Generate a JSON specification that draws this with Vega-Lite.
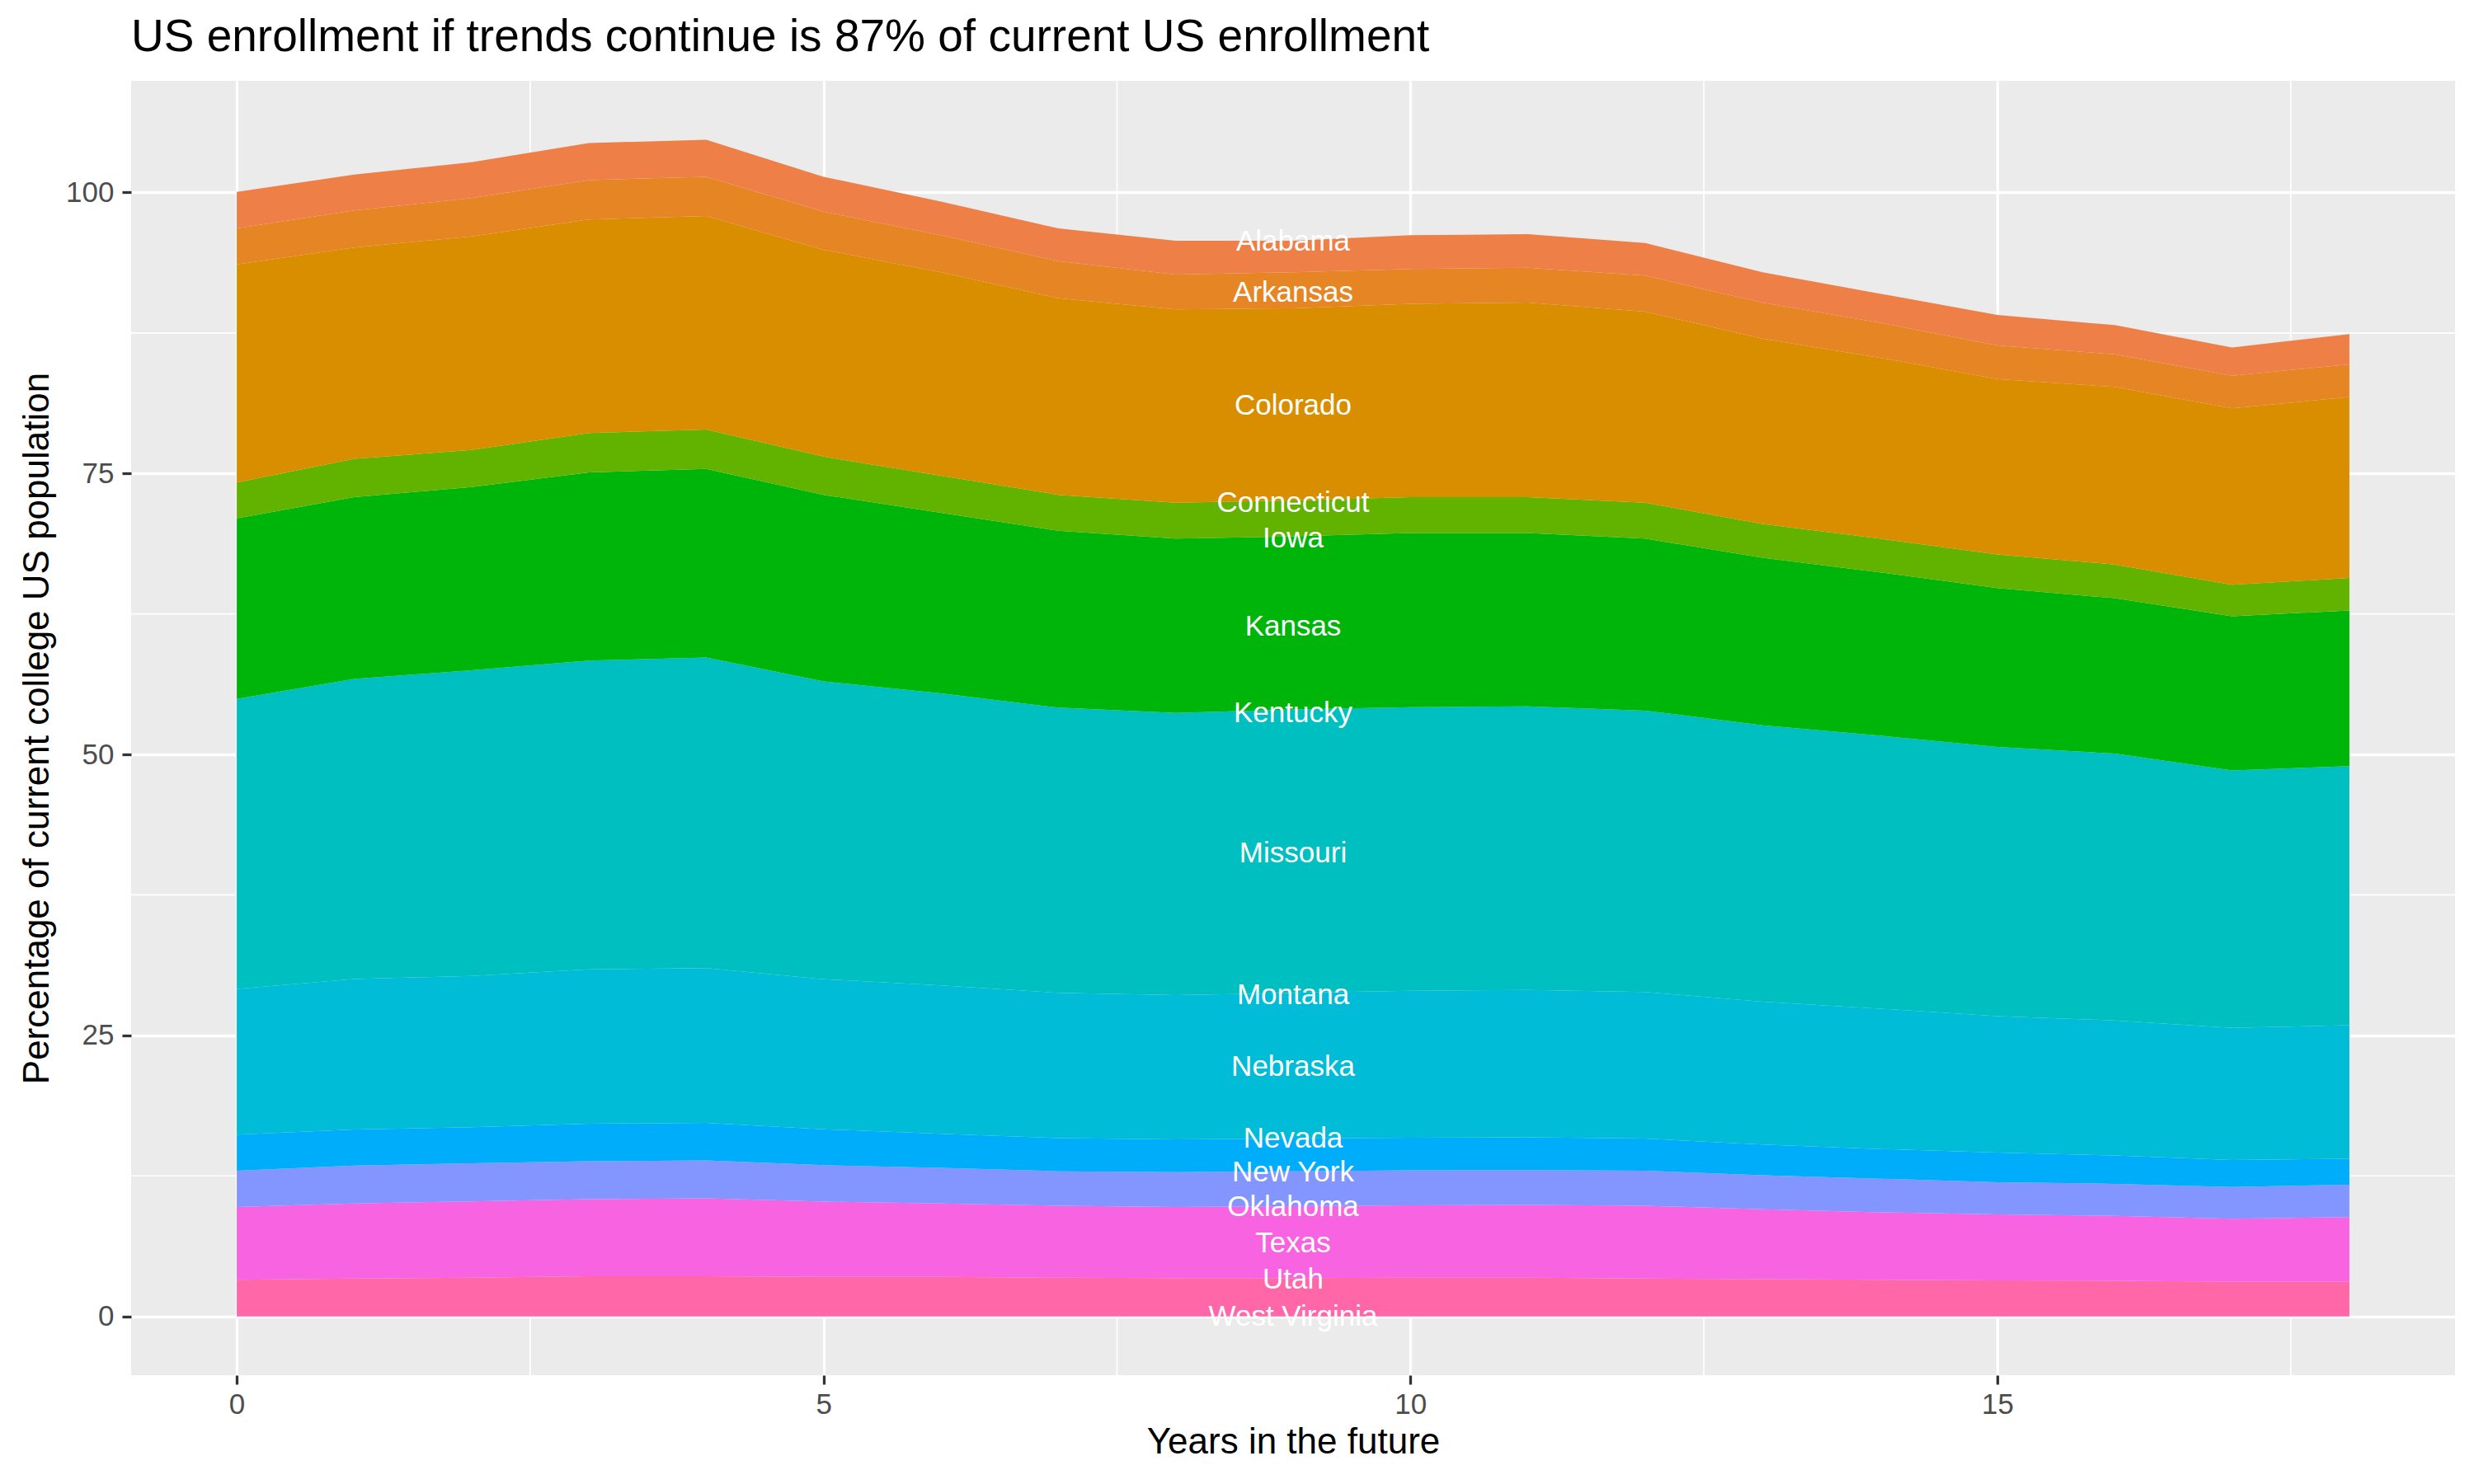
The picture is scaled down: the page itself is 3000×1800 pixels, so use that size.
{
  "$schema": "https://vega.github.io/schema/vega-lite/v6.json",
  "width": 2818,
  "height": 1570,
  "autosize": {"type": "none"},
  "padding": {"left": 159, "top": 98, "right": 23, "bottom": 132},
  "background": "white",
  "title": {
    "text": "US enrollment if trends continue is 87% of current US enrollment",
    "anchor": "start",
    "frame": "group",
    "font": "Liberation Sans",
    "fontSize": 55,
    "fontWeight": "normal",
    "color": "black",
    "offset": 23
  },
  "config": {
    "view": {"fill": "#EBEBEB", "stroke": null},
    "axis": {
      "domain": false,
      "grid": true,
      "gridColor": "white",
      "gridWidth": 3.3,
      "tickColor": "#333333",
      "tickWidth": 3.3,
      "tickSize": 11,
      "labelFont": "Liberation Sans",
      "labelFontSize": 35,
      "labelColor": "#4D4D4D",
      "titleFont": "Liberation Sans",
      "titleFontSize": 44,
      "titleFontWeight": "normal",
      "titleColor": "black"
    }
  },
  "datasets": {
    "enrollment": [
      {"band": "Utah", "year": 0, "pct": 3.25}, {"band": "Utah", "year": 1, "pct": 3.36}, {"band": "Utah", "year": 2, "pct": 3.44}, {"band": "Utah", "year": 3, "pct": 3.56}, {"band": "Utah", "year": 4, "pct": 3.56}, {"band": "Utah", "year": 5, "pct": 3.52}, {"band": "Utah", "year": 6, "pct": 3.52}, {"band": "Utah", "year": 7, "pct": 3.44}, {"band": "Utah", "year": 8, "pct": 3.40}, {"band": "Utah", "year": 9, "pct": 3.40}, {"band": "Utah", "year": 10, "pct": 3.44}, {"band": "Utah", "year": 11, "pct": 3.44}, {"band": "Utah", "year": 12, "pct": 3.36}, {"band": "Utah", "year": 13, "pct": 3.32}, {"band": "Utah", "year": 14, "pct": 3.25}, {"band": "Utah", "year": 15, "pct": 3.21}, {"band": "Utah", "year": 16, "pct": 3.17}, {"band": "Utah", "year": 17, "pct": 3.09}, {"band": "Utah", "year": 18, "pct": 3.09},
      {"band": "Texas", "year": 0, "pct": 6.48}, {"band": "Texas", "year": 1, "pct": 6.68}, {"band": "Texas", "year": 2, "pct": 6.79}, {"band": "Texas", "year": 3, "pct": 6.86}, {"band": "Texas", "year": 4, "pct": 6.94}, {"band": "Texas", "year": 5, "pct": 6.68}, {"band": "Texas", "year": 6, "pct": 6.52}, {"band": "Texas", "year": 7, "pct": 6.40}, {"band": "Texas", "year": 8, "pct": 6.33}, {"band": "Texas", "year": 9, "pct": 6.40}, {"band": "Texas", "year": 10, "pct": 6.44}, {"band": "Texas", "year": 11, "pct": 6.48}, {"band": "Texas", "year": 12, "pct": 6.48}, {"band": "Texas", "year": 13, "pct": 6.21}, {"band": "Texas", "year": 14, "pct": 6.01}, {"band": "Texas", "year": 15, "pct": 5.86}, {"band": "Texas", "year": 16, "pct": 5.78}, {"band": "Texas", "year": 17, "pct": 5.59}, {"band": "Texas", "year": 18, "pct": 5.74},
      {"band": "New York", "year": 0, "pct": 3.22}, {"band": "New York", "year": 1, "pct": 3.37}, {"band": "New York", "year": 2, "pct": 3.38}, {"band": "New York", "year": 3, "pct": 3.38}, {"band": "New York", "year": 4, "pct": 3.38}, {"band": "New York", "year": 5, "pct": 3.25}, {"band": "New York", "year": 6, "pct": 3.18}, {"band": "New York", "year": 7, "pct": 3.07}, {"band": "New York", "year": 8, "pct": 3.10}, {"band": "New York", "year": 9, "pct": 3.11}, {"band": "New York", "year": 10, "pct": 3.11}, {"band": "New York", "year": 11, "pct": 3.10}, {"band": "New York", "year": 12, "pct": 3.11}, {"band": "New York", "year": 13, "pct": 3.03}, {"band": "New York", "year": 14, "pct": 2.99}, {"band": "New York", "year": 15, "pct": 2.87}, {"band": "New York", "year": 16, "pct": 2.84}, {"band": "New York", "year": 17, "pct": 2.83}, {"band": "New York", "year": 18, "pct": 2.88},
      {"band": "Nevada", "year": 0, "pct": 3.22}, {"band": "Nevada", "year": 1, "pct": 3.22}, {"band": "Nevada", "year": 2, "pct": 3.22}, {"band": "Nevada", "year": 3, "pct": 3.34}, {"band": "Nevada", "year": 4, "pct": 3.34}, {"band": "Nevada", "year": 5, "pct": 3.20}, {"band": "Nevada", "year": 6, "pct": 3.02}, {"band": "Nevada", "year": 7, "pct": 2.95}, {"band": "Nevada", "year": 8, "pct": 2.91}, {"band": "Nevada", "year": 9, "pct": 2.91}, {"band": "Nevada", "year": 10, "pct": 2.91}, {"band": "Nevada", "year": 11, "pct": 2.91}, {"band": "Nevada", "year": 12, "pct": 2.87}, {"band": "Nevada", "year": 13, "pct": 2.72}, {"band": "Nevada", "year": 14, "pct": 2.64}, {"band": "Nevada", "year": 15, "pct": 2.64}, {"band": "Nevada", "year": 16, "pct": 2.52}, {"band": "Nevada", "year": 17, "pct": 2.41}, {"band": "Nevada", "year": 18, "pct": 2.32},
      {"band": "Nebraska", "year": 0, "pct": 12.96}, {"band": "Nebraska", "year": 1, "pct": 13.39}, {"band": "Nebraska", "year": 2, "pct": 13.46}, {"band": "Nebraska", "year": 3, "pct": 13.73}, {"band": "Nebraska", "year": 4, "pct": 13.77}, {"band": "Nebraska", "year": 5, "pct": 13.35}, {"band": "Nebraska", "year": 6, "pct": 13.20}, {"band": "Nebraska", "year": 7, "pct": 12.92}, {"band": "Nebraska", "year": 8, "pct": 12.84}, {"band": "Nebraska", "year": 9, "pct": 12.96}, {"band": "Nebraska", "year": 10, "pct": 13.07}, {"band": "Nebraska", "year": 11, "pct": 13.12}, {"band": "Nebraska", "year": 12, "pct": 13.04}, {"band": "Nebraska", "year": 13, "pct": 12.72}, {"band": "Nebraska", "year": 14, "pct": 12.49}, {"band": "Nebraska", "year": 15, "pct": 12.14}, {"band": "Nebraska", "year": 16, "pct": 12.02}, {"band": "Nebraska", "year": 17, "pct": 11.75}, {"band": "Nebraska", "year": 18, "pct": 11.88},
      {"band": "Missouri", "year": 0, "pct": 25.80}, {"band": "Missouri", "year": 1, "pct": 26.70}, {"band": "Missouri", "year": 2, "pct": 27.20}, {"band": "Missouri", "year": 3, "pct": 27.48}, {"band": "Missouri", "year": 4, "pct": 27.63}, {"band": "Missouri", "year": 5, "pct": 26.50}, {"band": "Missouri", "year": 6, "pct": 26.00}, {"band": "Missouri", "year": 7, "pct": 25.38}, {"band": "Missouri", "year": 8, "pct": 25.11}, {"band": "Missouri", "year": 9, "pct": 25.22}, {"band": "Missouri", "year": 10, "pct": 25.23}, {"band": "Missouri", "year": 11, "pct": 25.22}, {"band": "Missouri", "year": 12, "pct": 25.03}, {"band": "Missouri", "year": 13, "pct": 24.60}, {"band": "Missouri", "year": 14, "pct": 24.29}, {"band": "Missouri", "year": 15, "pct": 23.94}, {"band": "Missouri", "year": 16, "pct": 23.75}, {"band": "Missouri", "year": 17, "pct": 22.90}, {"band": "Missouri", "year": 18, "pct": 23.05},
      {"band": "Kansas", "year": 0, "pct": 16.07}, {"band": "Kansas", "year": 1, "pct": 16.18}, {"band": "Kansas", "year": 2, "pct": 16.31}, {"band": "Kansas", "year": 3, "pct": 16.75}, {"band": "Kansas", "year": 4, "pct": 16.78}, {"band": "Kansas", "year": 5, "pct": 16.60}, {"band": "Kansas", "year": 6, "pct": 16.06}, {"band": "Kansas", "year": 7, "pct": 15.74}, {"band": "Kansas", "year": 8, "pct": 15.51}, {"band": "Kansas", "year": 9, "pct": 15.40}, {"band": "Kansas", "year": 10, "pct": 15.50}, {"band": "Kansas", "year": 11, "pct": 15.43}, {"band": "Kansas", "year": 12, "pct": 15.31}, {"band": "Kansas", "year": 13, "pct": 14.90}, {"band": "Kansas", "year": 14, "pct": 14.53}, {"band": "Kansas", "year": 15, "pct": 14.14}, {"band": "Kansas", "year": 16, "pct": 13.82}, {"band": "Kansas", "year": 17, "pct": 13.73}, {"band": "Kansas", "year": 18, "pct": 13.84},
      {"band": "Connecticut", "year": 0, "pct": 3.20}, {"band": "Connecticut", "year": 1, "pct": 3.40}, {"band": "Connecticut", "year": 2, "pct": 3.30}, {"band": "Connecticut", "year": 3, "pct": 3.50}, {"band": "Connecticut", "year": 4, "pct": 3.50}, {"band": "Connecticut", "year": 5, "pct": 3.40}, {"band": "Connecticut", "year": 6, "pct": 3.30}, {"band": "Connecticut", "year": 7, "pct": 3.20}, {"band": "Connecticut", "year": 8, "pct": 3.20}, {"band": "Connecticut", "year": 9, "pct": 3.20}, {"band": "Connecticut", "year": 10, "pct": 3.20}, {"band": "Connecticut", "year": 11, "pct": 3.20}, {"band": "Connecticut", "year": 12, "pct": 3.20}, {"band": "Connecticut", "year": 13, "pct": 3.00}, {"band": "Connecticut", "year": 14, "pct": 3.00}, {"band": "Connecticut", "year": 15, "pct": 3.00}, {"band": "Connecticut", "year": 16, "pct": 3.00}, {"band": "Connecticut", "year": 17, "pct": 2.80}, {"band": "Connecticut", "year": 18, "pct": 2.90},
      {"band": "Colorado", "year": 0, "pct": 19.40}, {"band": "Colorado", "year": 1, "pct": 18.80}, {"band": "Colorado", "year": 2, "pct": 19.00}, {"band": "Colorado", "year": 3, "pct": 19.00}, {"band": "Colorado", "year": 4, "pct": 19.00}, {"band": "Colorado", "year": 5, "pct": 18.40}, {"band": "Colorado", "year": 6, "pct": 18.10}, {"band": "Colorado", "year": 7, "pct": 17.50}, {"band": "Colorado", "year": 8, "pct": 17.20}, {"band": "Colorado", "year": 9, "pct": 17.10}, {"band": "Colorado", "year": 10, "pct": 17.20}, {"band": "Colorado", "year": 11, "pct": 17.30}, {"band": "Colorado", "year": 12, "pct": 17.00}, {"band": "Colorado", "year": 13, "pct": 16.50}, {"band": "Colorado", "year": 14, "pct": 16.10}, {"band": "Colorado", "year": 15, "pct": 15.60}, {"band": "Colorado", "year": 16, "pct": 15.80}, {"band": "Colorado", "year": 17, "pct": 15.70}, {"band": "Colorado", "year": 18, "pct": 16.10},
      {"band": "Arkansas", "year": 0, "pct": 3.20}, {"band": "Arkansas", "year": 1, "pct": 3.30}, {"band": "Arkansas", "year": 2, "pct": 3.40}, {"band": "Arkansas", "year": 3, "pct": 3.50}, {"band": "Arkansas", "year": 4, "pct": 3.50}, {"band": "Arkansas", "year": 5, "pct": 3.40}, {"band": "Arkansas", "year": 6, "pct": 3.30}, {"band": "Arkansas", "year": 7, "pct": 3.30}, {"band": "Arkansas", "year": 8, "pct": 3.10}, {"band": "Arkansas", "year": 9, "pct": 3.20}, {"band": "Arkansas", "year": 10, "pct": 3.10}, {"band": "Arkansas", "year": 11, "pct": 3.10}, {"band": "Arkansas", "year": 12, "pct": 3.20}, {"band": "Arkansas", "year": 13, "pct": 3.20}, {"band": "Arkansas", "year": 14, "pct": 3.10}, {"band": "Arkansas", "year": 15, "pct": 3.00}, {"band": "Arkansas", "year": 16, "pct": 2.90}, {"band": "Arkansas", "year": 17, "pct": 2.90}, {"band": "Arkansas", "year": 18, "pct": 2.90},
      {"band": "Alabama", "year": 0, "pct": 3.25}, {"band": "Alabama", "year": 1, "pct": 3.20}, {"band": "Alabama", "year": 2, "pct": 3.20}, {"band": "Alabama", "year": 3, "pct": 3.30}, {"band": "Alabama", "year": 4, "pct": 3.30}, {"band": "Alabama", "year": 5, "pct": 3.10}, {"band": "Alabama", "year": 6, "pct": 3.00}, {"band": "Alabama", "year": 7, "pct": 2.90}, {"band": "Alabama", "year": 8, "pct": 3.00}, {"band": "Alabama", "year": 9, "pct": 2.80}, {"band": "Alabama", "year": 10, "pct": 3.00}, {"band": "Alabama", "year": 11, "pct": 3.00}, {"band": "Alabama", "year": 12, "pct": 2.90}, {"band": "Alabama", "year": 13, "pct": 2.70}, {"band": "Alabama", "year": 14, "pct": 2.60}, {"band": "Alabama", "year": 15, "pct": 2.70}, {"band": "Alabama", "year": 16, "pct": 2.60}, {"band": "Alabama", "year": 17, "pct": 2.50}, {"band": "Alabama", "year": 18, "pct": 2.70}
    ],
    "labels": [
      {"label": "Alabama", "year": 9, "pct": 95.6},
      {"label": "Arkansas", "year": 9, "pct": 91.1},
      {"label": "Colorado", "year": 9, "pct": 81.0},
      {"label": "Connecticut", "year": 9, "pct": 72.4},
      {"label": "Iowa", "year": 9, "pct": 69.2},
      {"label": "Kansas", "year": 9, "pct": 61.4},
      {"label": "Kentucky", "year": 9, "pct": 53.7},
      {"label": "Missouri", "year": 9, "pct": 41.2},
      {"label": "Montana", "year": 9, "pct": 28.6},
      {"label": "Nebraska", "year": 9, "pct": 22.2},
      {"label": "Nevada", "year": 9, "pct": 15.8},
      {"label": "New York", "year": 9, "pct": 12.8},
      {"label": "Oklahoma", "year": 9, "pct": 9.7},
      {"label": "Texas", "year": 9, "pct": 6.5},
      {"label": "Utah", "year": 9, "pct": 3.3},
      {"label": "West Virginia", "year": 9, "pct": 0.0}
    ],
    "minorX": [{"year": 2.5}, {"year": 7.5}, {"year": 12.5}, {"year": 17.5}],
    "minorY": [{"pct": 12.5}, {"pct": 37.5}, {"pct": 62.5}, {"pct": 87.5}]
  },
  "layer": [
    {
      "data": {"name": "minorX"},
      "mark": {"type": "rule", "color": "white", "strokeWidth": 1.7},
      "encoding": {
        "x": {"field": "year", "type": "quantitative", "scale": {"domain": [-0.9, 18.9], "nice": false, "zero": false},
              "axis": {"values": [0, 5, 10, 15], "format": "d", "title": "Years in the future", "labelPadding": 7, "titlePadding": 6}}
      }
    },
    {
      "data": {"name": "minorY"},
      "mark": {"type": "rule", "color": "white", "strokeWidth": 1.7},
      "encoding": {
        "y": {"field": "pct", "type": "quantitative", "scale": {"domain": [-5.235, 109.94], "nice": false, "zero": false},
              "axis": {"values": [0, 25, 50, 75, 100], "format": "d", "title": "Percentage of current college US population", "labelPadding": 10, "titlePadding": 12}}
      }
    },
    {
      "data": {"name": "enrollment"},
      "mark": {"type": "area", "interpolate": "linear"},
      "encoding": {
        "x": {"field": "year", "type": "quantitative"},
        "y": {"field": "pct", "type": "quantitative", "stack": "zero"},
        "color": {
          "field": "band",
          "type": "nominal",
          "legend": null,
          "scale": {
            "domain": ["Alabama", "Arkansas", "Colorado", "Connecticut", "Kansas", "Missouri", "Nebraska", "Nevada", "New York", "Texas", "Utah"],
            "range": ["#EE7F47", "#E68523", "#D98E00", "#62B200", "#00B50A", "#00BFC0", "#00BCD6", "#00ADFA", "#8396FF", "#F763E0", "#FF67A9"]
          }
        },
        "order": {"field": "band", "sort": "descending"}
      }
    },
    {
      "data": {"name": "labels"},
      "mark": {"type": "text", "color": "white", "font": "Liberation Sans", "fontSize": 35, "align": "center", "baseline": "middle"},
      "encoding": {
        "x": {"field": "year", "type": "quantitative"},
        "y": {"field": "pct", "type": "quantitative", "stack": null},
        "text": {"field": "label"}
      }
    }
  ]
}
